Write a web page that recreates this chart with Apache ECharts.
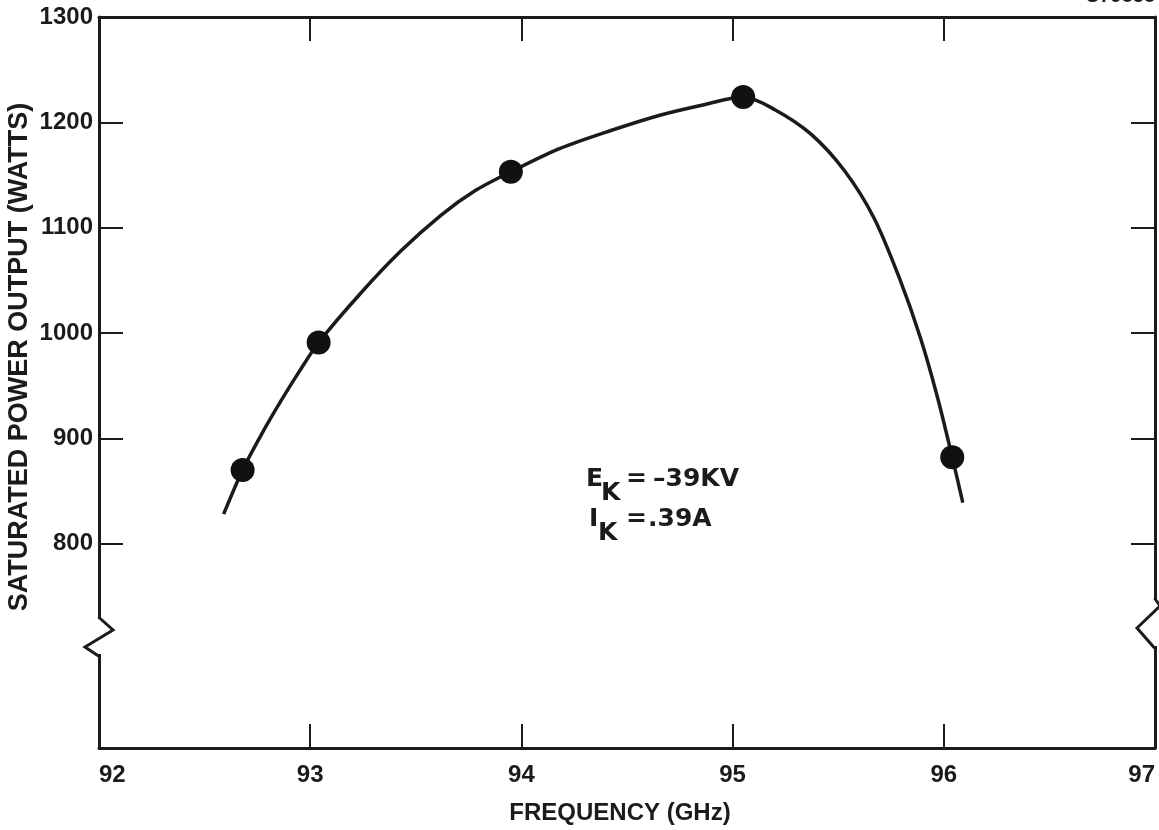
<!DOCTYPE html>
<html>
<head>
<meta charset="utf-8">
<script src="https://cdn.jsdelivr.net/npm/echarts@6/dist/echarts.min.js"></script>
<style>
  html, body { margin: 0; padding: 0; background: #ffffff; }
  #chart { width: 1159px; height: 830px; }
</style>
</head>
<body>
<div id="chart"></div>
<script>
// ---- data ----
const xTickValues = [92, 93, 94, 95, 96, 97];
const yTickValues = [800, 900, 1000, 1100, 1200, 1300];
const measuredFreq = [92.68, 93.04, 93.95, 95.05, 96.04];
const measuredPower = [870, 991, 1153, 1224, 882];
const curveFreq = [92.59, 92.68, 92.77, 92.86, 92.95, 93.04, 93.24, 93.43, 93.62, 93.78, 93.95,
                   94.18, 94.42, 94.66, 94.87, 95.05, 95.20, 95.37, 95.53, 95.67, 95.79, 95.89,
                   95.97, 96.04, 96.09];
const curvePower = [828, 870, 904, 935, 964, 991, 1038, 1078, 1112, 1135, 1153,
                    1175, 1192, 1207, 1217, 1224, 1212, 1189, 1154, 1109, 1052, 995,
                    939, 882, 839];
const xTitle = 'FREQUENCY (GHz)';
const yTitle = 'SATURATED POWER OUTPUT (WATTS)';
const figureId = 'C79858';

const INK = '#1b1b1d';
const FONT = '"Liberation Sans", Arial, Helvetica, sans-serif';
const NOTE_FONT = 'bold 25px "DejaVu Sans", "Liberation Sans", sans-serif';

const chart = echarts.init(document.getElementById('chart'), null, { renderer: 'canvas' });

const axisLineStyle = { show: true, lineStyle: { color: INK, width: 3 } };
const tickStyle = { show: true, inside: true, length: 24, lineStyle: { color: INK, width: 2 } };

const option = {
  backgroundColor: '#ffffff',
  animation: false,
  grid: { left: 99, right: 4, top: 17, bottom: 77, containLabel: false },
  xAxis: [
    {
      type: 'value', position: 'bottom', min: 92, max: 97, interval: 1,
      axisLine: axisLineStyle,
      axisTick: tickStyle,
      splitLine: { show: false },
      axisLabel: {
        color: INK, fontFamily: FONT, fontWeight: 'bold', fontSize: 24, margin: 15,
        alignMinLabel: 'left', alignMaxLabel: 'right',
        customValues: xTickValues,
        formatter: v => String(v)
      },
      name: xTitle, nameLocation: 'middle', nameGap: 53,
      nameTextStyle: { color: INK, fontFamily: FONT, fontWeight: 'bold', fontSize: 24, padding: [0, 14, 0, 0] }
    },
    {
      type: 'value', position: 'top', min: 92, max: 97, interval: 1,
      axisLine: axisLineStyle,
      axisTick: tickStyle,
      axisLabel: { show: false },
      splitLine: { show: false }
    }
  ],
  yAxis: [
    {
      type: 'value', position: 'left', min: 606, max: 1300,
      axisLine: axisLineStyle,
      axisTick: Object.assign({}, tickStyle, { customValues: yTickValues }),
      splitLine: { show: false },
      axisLabel: {
        color: INK, fontFamily: FONT, fontWeight: 'bold', fontSize: 24, margin: 6,
        customValues: yTickValues,
        formatter: v => String(v)
      }
    },
    {
      type: 'value', position: 'right', min: 606, max: 1300,
      axisLine: axisLineStyle,
      axisTick: Object.assign({}, tickStyle, { customValues: yTickValues }),
      axisLabel: { show: false, customValues: yTickValues },
      splitLine: { show: false }
    }
  ],
  series: [
    {
      name: 'curve', type: 'line', xAxisIndex: 0, yAxisIndex: 0,
      data: curveFreq.map((f, i) => [f, curvePower[i]]),
      smooth: 0.3, showSymbol: false, symbol: 'none',
      lineStyle: { color: INK, width: 3.5 },
      z: 2, silent: true
    },
    {
      name: 'measured', type: 'scatter', xAxisIndex: 0, yAxisIndex: 0,
      data: measuredFreq.map((f, i) => [f, measuredPower[i]]),
      symbol: 'circle', symbolSize: 24,
      itemStyle: { color: '#111113', opacity: 1 },
      z: 3, silent: true
    }
  ],
  graphic: [
    // y-axis title
    {
      type: 'text', x: 20, y: 357, rotation: Math.PI / 2,
      style: { text: yTitle, x: 0, y: 0, align: 'center', verticalAlign: 'middle',
               fill: INK, font: 'bold 27px ' + FONT }
    },
    // figure id (cut off at top edge)
    {
      type: 'text', right: 4, top: -14,
      style: { text: figureId, fill: INK, font: 'bold 20px ' + FONT }
    },
    // annotation
    { type: 'text', x: 586, y: 467, style: { text: 'E', fill: INK, font: NOTE_FONT } },
    { type: 'text', x: 601, y: 481, style: { text: 'K', fill: INK, font: NOTE_FONT } },
    { type: 'text', x: 626, y: 467, style: { text: '=', fill: INK, font: NOTE_FONT } },
    { type: 'text', x: 653, y: 467, style: { text: '\u201339KV', fill: INK, font: NOTE_FONT } },
    { type: 'text', x: 589, y: 507, style: { text: 'I', fill: INK, font: NOTE_FONT } },
    { type: 'text', x: 598, y: 521, style: { text: 'K', fill: INK, font: NOTE_FONT } },
    { type: 'text', x: 626, y: 507, style: { text: '=', fill: INK, font: NOTE_FONT } },
    { type: 'text', x: 648, y: 507, style: { text: '.39A', fill: INK, font: NOTE_FONT } },
    // left axis break
    { type: 'rect', shape: { x: 94, y: 619, width: 10, height: 35 }, style: { fill: '#ffffff' }, z: 100 },
    { type: 'polyline', shape: { points: [[98.5, 617], [113, 630], [85, 647], [98.5, 656]] },
      style: { stroke: INK, lineWidth: 3, fill: null }, z: 101 },
    // right axis break
    { type: 'rect', shape: { x: 1148, y: 600, width: 11, height: 46 }, style: { fill: '#ffffff' }, z: 100 },
    { type: 'polyline', shape: { points: [[1154.5, 598], [1160, 606], [1137, 628], [1154.5, 648]] },
      style: { stroke: INK, lineWidth: 3, fill: null }, z: 101 }
  ]
};

chart.setOption(option);
</script>
</body>
</html>
